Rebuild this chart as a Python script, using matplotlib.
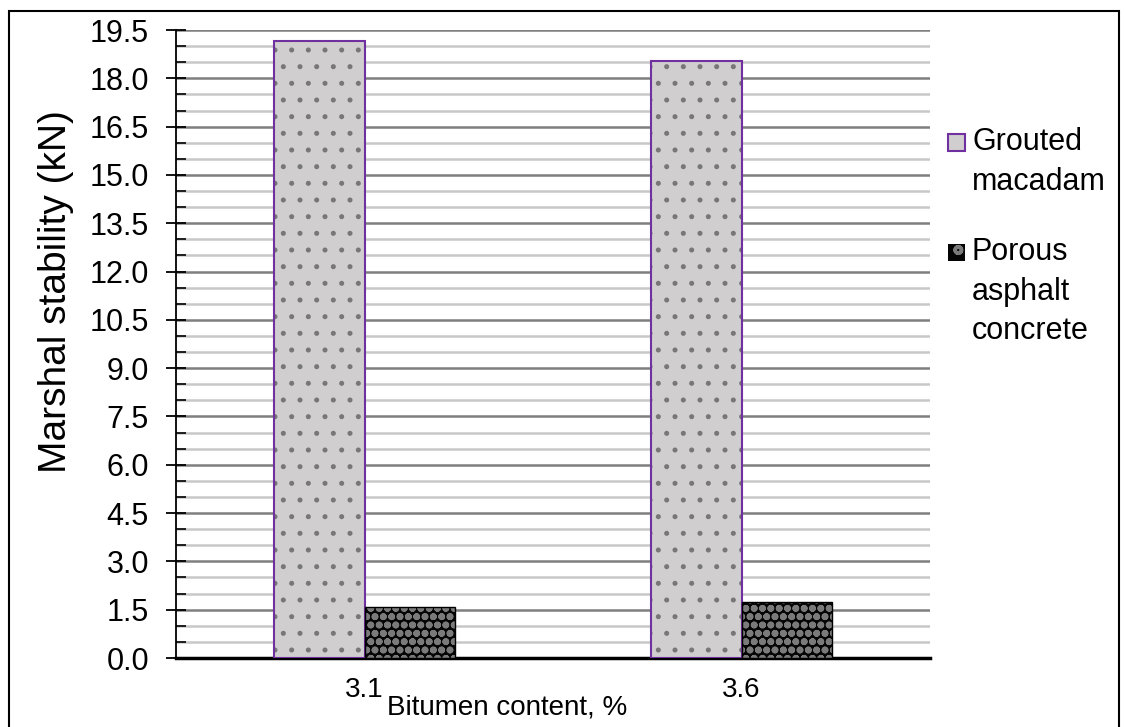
import matplotlib
matplotlib.use("Agg")
import matplotlib.pyplot as plt
import numpy as np
from matplotlib.patches import Rectangle

plt.rcParams['font.family'] = ['Liberation Sans', 'DejaVu Sans']

categories = ["3.1", "3.6"]
grouted = [19.15, 18.55]
porous = [1.58, 1.74]
series_labels = ["Grouted\nmacadam", "Porous\nasphalt\nconcrete"]

W, H = 1124, 727
fig = plt.figure(figsize=(W/100, H/100), dpi=100)
ax = fig.add_axes([176/W, 1-658/H, (930-176)/W, (658-30)/H])

x = np.arange(len(categories))
bw = 0.239

GROUT_FACE, GROUT_DOT, GROUT_EDGE = '#d0cecf', '#777777', '#7030a0'
POR_FACE, POR_DOT = '#050505', '#7a7a7a'

# grouted: light grey with dots
plt.rcParams['hatch.linewidth'] = 1.2
ax.bar(x - bw/2, grouted, bw, color=GROUT_FACE, edgecolor=GROUT_DOT, hatch='.', linewidth=0, zorder=3)
ax.bar(x - bw/2, grouted, bw, fill=False, edgecolor=GROUT_EDGE, linewidth=1.5, zorder=4)
# porous: black with grey squares
plt.rcParams['hatch.linewidth'] = 2.5
ax.bar(x + bw/2, porous, bw, color=POR_FACE, edgecolor=POR_DOT, hatch='oo', linewidth=0, zorder=3)
ax.bar(x + bw/2, porous, bw, fill=False, edgecolor='#000000', linewidth=1.0, zorder=4)

ax.set_xlim(-0.5, 1.5)
ax.set_ylim(0, 19.5)
yt = np.arange(0, 19.51, 1.5)
ax.set_yticks(yt)
ax.set_yticklabels([f"{v:.1f}" for v in yt], fontsize=22)
ax.set_yticks(np.arange(0, 19.51, 0.5), minor=True)
ax.tick_params(axis='y', which='major', direction='inout', length=15, width=1.3, pad=12)
ax.tick_params(axis='y', which='minor', direction='in', length=7, width=1.2)
ax.set_xticks(x)
ax.set_xticklabels(categories, fontsize=20)
ax.tick_params(axis='x', which='both', length=0, pad=14)

ax.grid(axis='y', which='minor', color='#c8c8c8', linewidth=1.8, zorder=0)
ax.grid(axis='y', which='major', color='#7f7f7f', linewidth=1.8, zorder=1)
ax.set_axisbelow(True)

for s in ['top', 'right']:
    ax.spines[s].set_visible(False)
ax.spines['left'].set_linewidth(1.3)
ax.spines['bottom'].set_linewidth(2.5)

fig.text(56/W, 1-292/H, "Marshal stability (kN)", fontsize=28, rotation=90,
         ha='center', va='center')
fig.text(507/W, 1-707/H, "Bitumen content, %", fontsize=20, ha='center', va='center')

# legend (manual, markers aligned with the first text line)
leg_items = [
    (series_labels[0], dict(facecolor=GROUT_FACE, edgecolor=GROUT_EDGE, linewidth=1.5), 134),
    (series_labels[1], dict(facecolor=POR_FACE, edgecolor=POR_DOT, hatch='o', linewidth=0), 244),
]
for label, style, ytop in leg_items:
    fig.add_artist(Rectangle((948/W, 1-(ytop+17)/H), 17/W, 17/H,
                             transform=fig.transFigure, **style))
    fig.text(972/W, 1-(ytop-7)/H, label, fontsize=22, ha='left', va='top',
             linespacing=1.42)

fig.add_artist(Rectangle((9/W, -0.01), (1119-9)/W, 1-11/H + 0.01, transform=fig.transFigure,
                         fill=False, edgecolor='black', linewidth=1.5))

fig.savefig("out.png", dpi=100)
